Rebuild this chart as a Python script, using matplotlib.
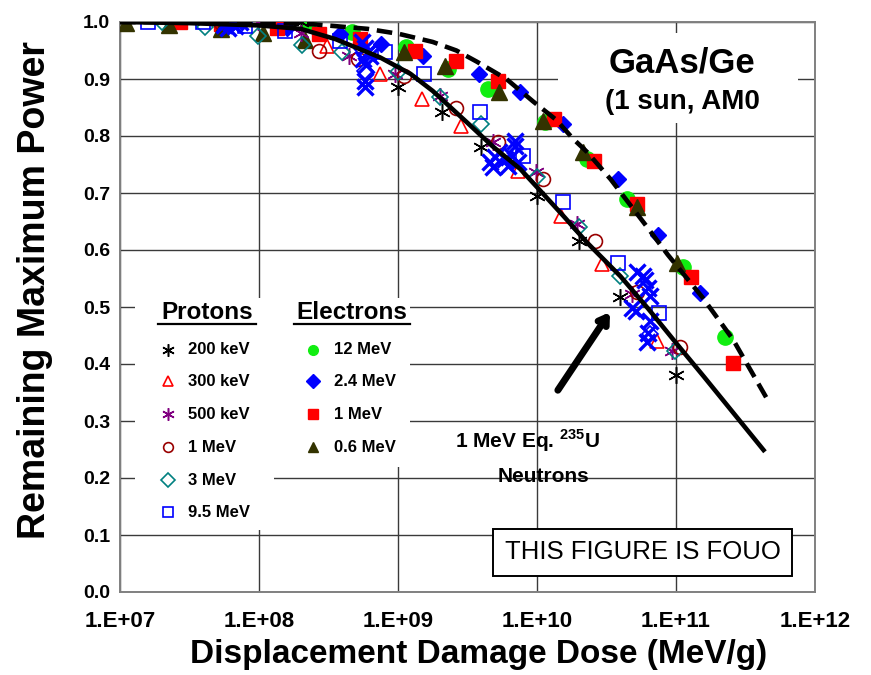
import matplotlib
matplotlib.use('Agg')
import matplotlib.pyplot as plt
import numpy as np
from matplotlib.patches import Rectangle

plt.rcParams['font.family'] = ['Liberation Sans', 'DejaVu Sans']
plt.rcParams['font.weight'] = 'bold'
plt.rcParams['mathtext.fontset'] = 'custom'
plt.rcParams['mathtext.rm'] = 'Liberation Sans:bold'
plt.rcParams['mathtext.bf'] = 'Liberation Sans:bold'

# log10 of displacement damage dose (MeV/g) and remaining fraction of Pmax
p200_logd = [8.30, 9.00, 9.32, 9.60, 10.00, 10.30, 10.60, 11.00]
p200_pmax = [1.00, 0.886, 0.842, 0.780, 0.694, 0.615, 0.517, 0.381]

p300_logd = [8.17, 8.49, 8.87, 9.17, 9.45, 9.86, 10.17, 10.47, 10.86]
p300_pmax = [1.00, 0.958, 0.909, 0.865, 0.817, 0.738, 0.659, 0.575, 0.440]

p500_logd = [7.99, 8.30, 8.65, 8.98, 9.30, 9.68, 9.99, 10.29, 10.68, 10.97]
p500_pmax = [1.00, 0.980, 0.941, 0.909, 0.870, 0.789, 0.736, 0.645, 0.522, 0.422]

p1000_logd = [7.72, 8.43, 8.71, 9.04, 9.42, 9.72, 10.04, 10.42, 10.72, 11.03]
p1000_pmax = [1.00, 0.950, 0.935, 0.906, 0.849, 0.789, 0.724, 0.615, 0.527, 0.429]

p3000_logd = [7.30, 7.61, 7.99, 8.31, 8.60, 9.00, 9.30, 9.60, 10.00, 10.30, 10.60, 10.99]
p3000_pmax = [1.00, 0.991, 0.976, 0.960, 0.947, 0.912, 0.868, 0.821, 0.728, 0.640, 0.554, 0.422]

p9500_logd = [7.20, 7.60, 7.90, 8.19, 8.58, 8.91, 9.19, 9.59, 9.90, 10.19, 10.58, 10.88]
p9500_pmax = [1.00, 1.00, 0.993, 0.985, 0.967, 0.947, 0.909, 0.842, 0.765, 0.685, 0.578, 0.490]

e12_logd = [8.35, 8.67, 9.06, 9.36, 9.65, 10.06, 10.36, 10.65, 11.05, 11.35]
e12_pmax = [1.00, 0.982, 0.956, 0.917, 0.882, 0.824, 0.759, 0.689, 0.571, 0.448]

e2p4_logd = [7.88, 8.20, 8.58, 8.88, 9.18, 9.58, 9.88, 10.19, 10.58, 10.87, 11.17]
e2p4_pmax = [1.00, 0.990, 0.979, 0.961, 0.941, 0.909, 0.877, 0.821, 0.724, 0.627, 0.525]

e1_logd = [7.43, 7.73, 8.13, 8.43, 8.73, 9.12, 9.42, 9.72, 10.12, 10.41, 10.72, 11.11, 11.41]
e1_pmax = [1.00, 0.997, 0.989, 0.979, 0.970, 0.950, 0.932, 0.897, 0.830, 0.756, 0.680, 0.552, 0.402]

e0p6_logd = [7.04, 7.35, 7.73, 8.03, 8.33, 9.04, 9.34, 9.73, 10.04, 10.33, 10.72, 11.01]
e0p6_pmax = [0.998, 0.995, 0.988, 0.981, 0.969, 0.947, 0.923, 0.877, 0.827, 0.772, 0.675, 0.578]

neutron_logd = [7.75, 7.78, 7.80, 7.83, 7.86, 7.76,
                8.74, 8.76, 8.78, 8.75, 8.80, 8.77, 8.79, 8.76, 8.76,
                9.66, 9.70, 9.73, 9.77, 9.79, 9.82, 9.84, 9.86, 9.68, 9.84,
                10.72, 10.78, 10.80, 10.81, 10.68, 10.71, 10.81, 10.80, 10.79, 10.76]
neutron_pmax = [0.995, 0.990, 0.998, 0.993, 1.00, 1.00,
                0.965, 0.955, 0.945, 0.935, 0.940, 0.925, 0.950, 0.897, 0.886,
                0.754, 0.763, 0.772, 0.760, 0.747, 0.765, 0.782, 0.754, 0.745, 0.791,
                0.561, 0.548, 0.534, 0.519, 0.499, 0.493, 0.475, 0.455, 0.439, 0.554]
neutron_open_logd = [8.76, 10.81]
neutron_open_pmax = [0.914, 0.452]

# characteristic curves: proton/neutron fit (solid) and electron fit (dashed)
proton_fit_logd = [7.0, 7.5, 8.0, 8.3, 8.55, 8.87, 9.09, 9.25, 9.5, 9.68, 9.88, 10.02,
                   10.2, 10.36, 10.6, 10.8, 11.0, 11.2, 11.4, 11.64]
proton_fit_pmax = [1.0, 0.998, 0.994, 0.988, 0.970, 0.938, 0.909, 0.879, 0.823, 0.782, 0.742, 0.705,
                   0.657, 0.613, 0.554, 0.497, 0.437, 0.378, 0.318, 0.246]
electron_fit_logd = [7.0, 8.0, 8.39, 8.78, 9.01, 9.25, 9.42, 9.57, 9.78, 9.97, 10.14, 10.26,
                     10.36, 10.53, 10.79, 10.94, 11.19, 11.41, 11.65]
electron_fit_pmax = [1.0, 0.999, 0.996, 0.988, 0.979, 0.965, 0.950, 0.930, 0.900, 0.861, 0.828, 0.795,
                     0.772, 0.724, 0.641, 0.592, 0.517, 0.443, 0.341]

x_ticks = [1e7, 1e8, 1e9, 1e10, 1e11, 1e12]
x_tick_labels = ['1.E+07', '1.E+08', '1.E+09', '1.E+10', '1.E+11', '1.E+12']
y_ticks = [0.0, 0.1, 0.2, 0.3, 0.4, 0.5, 0.6, 0.7, 0.8, 0.9, 1.0]

asterisk = (6, 2, 0)
proton_series = [
    ('200 keV', p200_logd, p200_pmax, dict(marker=asterisk, mfc='none', mec='black', mew=1.1)),
    ('300 keV', p300_logd, p300_pmax, dict(marker='^', mfc='none', mec='#ff0000', mew=1.2)),
    ('500 keV', p500_logd, p500_pmax, dict(marker=asterisk, mfc='none', mec='#800080', mew=1.1)),
    ('1 MeV', p1000_logd, p1000_pmax, dict(marker='o', mfc='none', mec='#990000', mew=1.2)),
    ('3 MeV', p3000_logd, p3000_pmax, dict(marker='D', mfc='none', mec='#008080', mew=1.2)),
    ('9.5 MeV', p9500_logd, p9500_pmax, dict(marker='s', mfc='none', mec='#0000ff', mew=1.2)),
]
electron_series = [
    ('12 MeV', e12_logd, e12_pmax, dict(marker='o', mfc='#11ee11', mec='#11ee11')),
    ('2.4 MeV', e2p4_logd, e2p4_pmax, dict(marker='D', mfc='#0000ff', mec='#0000ff')),
    ('1 MeV', e1_logd, e1_pmax, dict(marker='s', mfc='#ff0000', mec='#ff0000')),
    ('0.6 MeV', e0p6_logd, e0p6_pmax, dict(marker='^', mfc='#333300', mec='#333300')),
]
electron_ms = {'o': 11, 'D': 8.5, 's': 10, '^': 11}
proton_ms = {'o': 10, 'D': 8.5, 's': 10, '^': 10}

fig = plt.figure(figsize=(8.71, 6.75), dpi=100)
ax = fig.add_axes([120 / 871, 1 - 592 / 675, 695 / 871, 570 / 675])
ax.set_xscale('log')
ax.set_xlim(1e7, 1e12)
ax.set_ylim(0, 1.0)
ax.set_axisbelow(True)
ax.grid(True, which='major', color='#3a3a3a', lw=1.0)
ax.minorticks_off()
ax.set_xticks(x_ticks)
ax.set_xticklabels(x_tick_labels, fontsize=16, fontweight='bold')
ax.set_yticks(y_ticks)
ax.set_yticklabels([f'{v:.1f}' for v in y_ticks], fontsize=14, fontweight='bold')
ax.tick_params(axis='both', length=0)
ax.tick_params(axis='x', pad=14)
ax.tick_params(axis='y', pad=7)
for sp in ax.spines.values():
    sp.set_color('#808080')
    sp.set_linewidth(1.4)

for name, xs, ys, style in electron_series:
    ax.plot(np.power(10.0, xs), ys, ls='none', ms=electron_ms[style['marker']], zorder=3, **style)
for name, xs, ys, style in proton_series:
    ms = 12 if style['marker'] == asterisk else proton_ms[style['marker']]
    ax.plot(np.power(10.0, xs), ys, ls='none', ms=ms, zorder=3, **style)
ax.plot(np.power(10.0, neutron_logd), neutron_pmax, ls='none', marker='x', ms=11, mew=2.4,
        color='#0000ff', zorder=3)
ax.plot(np.power(10.0, neutron_open_logd), neutron_open_pmax, ls='none', marker='D', ms=8.5,
        mfc='none', mec='#0000ff', mew=1.2, zorder=3)

ax.plot(np.power(10.0, proton_fit_logd), proton_fit_pmax, color='black', lw=3.3, zorder=4,
        solid_capstyle='butt')
ax.plot(np.power(10.0, electron_fit_logd), electron_fit_pmax, color='black', lw=3.3, zorder=4,
        ls=(0, (3.4, 1.7)))

# white panels behind legend and title text
tr = ax.transAxes
ax.add_patch(Rectangle((0.022, 0.109), 0.200, 0.407, transform=tr, fc='white', ec='none', zorder=1))
ax.add_patch(Rectangle((0.222, 0.219), 0.195, 0.297, transform=tr, fc='white', ec='none', zorder=1))
ax.add_patch(Rectangle((0.630, 0.823), 0.346, 0.158, transform=tr, fc='white', ec='none', zorder=1))

ax.text(0.809, 0.928, 'GaAs/Ge', transform=tr, ha='center', va='center', fontsize=25, fontweight='bold', zorder=5)
ax.text(0.809, 0.860, '(1 sun, AM0', transform=tr, ha='center', va='center', fontsize=20, fontweight='bold', zorder=5)

# legend
ax.text(0.125, 0.491, 'Protons', transform=tr, ha='center', va='center', fontsize=17.5, fontweight='bold', zorder=5)
ax.text(0.334, 0.491, 'Electrons', transform=tr, ha='center', va='center', fontsize=17.5, fontweight='bold', zorder=5)
ax.plot([0.055, 0.195], [0.470, 0.470], transform=tr, color='black', lw=1.6, zorder=5)
ax.plot([0.251, 0.417], [0.470, 0.470], transform=tr, color='black', lw=1.6, zorder=5)

row_y = [0.425, 0.370, 0.312, 0.254, 0.196, 0.140]
for (name, xs, ys, style), yy in zip(proton_series, row_y):
    ms = 9 if style['marker'] == asterisk else 7
    ax.plot([0.069], [yy], transform=tr, ls='none', ms=ms, zorder=5, **style)
    ax.text(0.098, yy, name, transform=tr, ha='left', va='center', fontsize=12, fontweight='bold', zorder=5)
for (name, xs, ys, style), yy in zip(electron_series, row_y):
    ax.plot([0.278], [yy], transform=tr, ls='none', ms=7, zorder=5, **style)
    ax.text(0.308, yy, name, transform=tr, ha='left', va='center', fontsize=12, fontweight='bold', zorder=5)

# neutron annotation
ax.text(0.587, 0.266, r'1 MeV Eq. $^{\mathbf{235}}$U', transform=tr, ha='center', va='center',
        fontsize=15, fontweight='bold', zorder=5)
ax.text(0.610, 0.203, 'Neutrons', transform=tr, ha='center', va='center',
        fontsize=15, fontweight='bold', zorder=5)
ax.annotate('', xy=(0.705, 0.491), xytext=(0.630, 0.354), xycoords=tr, textcoords=tr,
            arrowprops=dict(arrowstyle='->,head_length=0.55,head_width=0.35', lw=5, color='black',
                            shrinkA=0, shrinkB=0), zorder=5)

ax.text(0.752, 0.070, 'THIS FIGURE IS FOUO', transform=tr, ha='center', va='center',
        fontsize=18.5, fontweight='normal', zorder=6,
        bbox=dict(boxstyle='square,pad=0.45', fc='white', ec='black', lw=1.4))

fig.text(0.040, 0.570, 'Remaining Maximum Power', rotation=90, ha='center', va='center',
         fontsize=27, fontweight='bold')
fig.text(0.549, 0.030, 'Displacement Damage Dose (MeV/g)', ha='center', va='center',
         fontsize=24, fontweight='bold')

fig.savefig('out.png', dpi=100)
